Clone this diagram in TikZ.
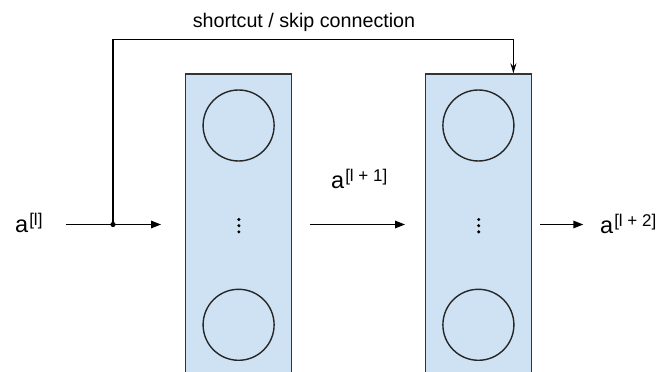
\documentclass[tikz,border=0pt]{standalone}
\usepackage{fontspec}
\setmainfont{Liberation Sans}
\usetikzlibrary{arrows.meta}
\definecolor{layerblue}{RGB}{207,226,243}
\definecolor{layeredge}{RGB}{51,51,51}
\newcommand{\actv}[1]{a\hspace{1pt}\raisebox{7pt}{\fontsize{17}{17}\selectfont[#1]}}

\begin{document}
\begin{tikzpicture}[x=1pt,y=1pt,
    layer/.style={draw=layeredge,line width=1.4pt,fill=layerblue,minimum width=106pt,minimum height=330pt,inner sep=0pt,anchor=north},
    neuron/.style={circle,draw=black!85,line width=1.4pt,minimum size=71pt,inner sep=0pt},
    flow/.style={line width=1.4pt,-{Triangle[length=10pt,width=7.5pt]}},
    act/.style={font=\fontsize{23.5}{23.5}\selectfont,inner sep=0pt,anchor=base west}]
\clip (0,0) rectangle (662,372);
\foreach \name/\x in {layerA/238.6,layerB/478.4}{
  \node[layer] (\name) at (\x,298.7) {};
  \node[neuron] (\name-top) at (\x,246.5) {};
  \node[neuron] (\name-bot) at (\x,47.2) {};
  \foreach \d in {-6.2,0,6.2}
    \fill (\x+0.3,146.3+\d) circle (1.7);
}
\node[act] (inLbl) at (15,139) {\actv{l}};
\node[act] (midLbl) at (331,183.7) {\actv{l + 1}};
\node[act] (outLbl) at (600,138) {\actv{l + 2}};
\node[font=\fontsize{19.7}{20}\selectfont,anchor=base,inner sep=0pt] (skipLbl) at (304,344.5) {shortcut / skip connection};

\coordinate (inStart) at (66,147.5);
\coordinate (split) at (113,147.5);
\coordinate (inEnd) at (161,147.5);
\coordinate (midStart) at (310,147.5);
\coordinate (midEnd) at (405,147.5);
\coordinate (outStart) at (540,147.5);
\coordinate (outEnd) at (583.3,147.5);
\coordinate (skipIn) at ([xshift=35pt]layerB.north);

\draw[flow] (inStart) -- (inEnd);
\draw[flow] (midStart) -- (midEnd);
\draw[flow] (outStart) -- (outEnd);
\draw[line width=1.4pt,-{Stealth[length=10pt,width=6pt]}] (split) -- ++(0,185.2) -| (skipIn);
\fill (split) circle (2.6);
\end{tikzpicture}
\end{document}
